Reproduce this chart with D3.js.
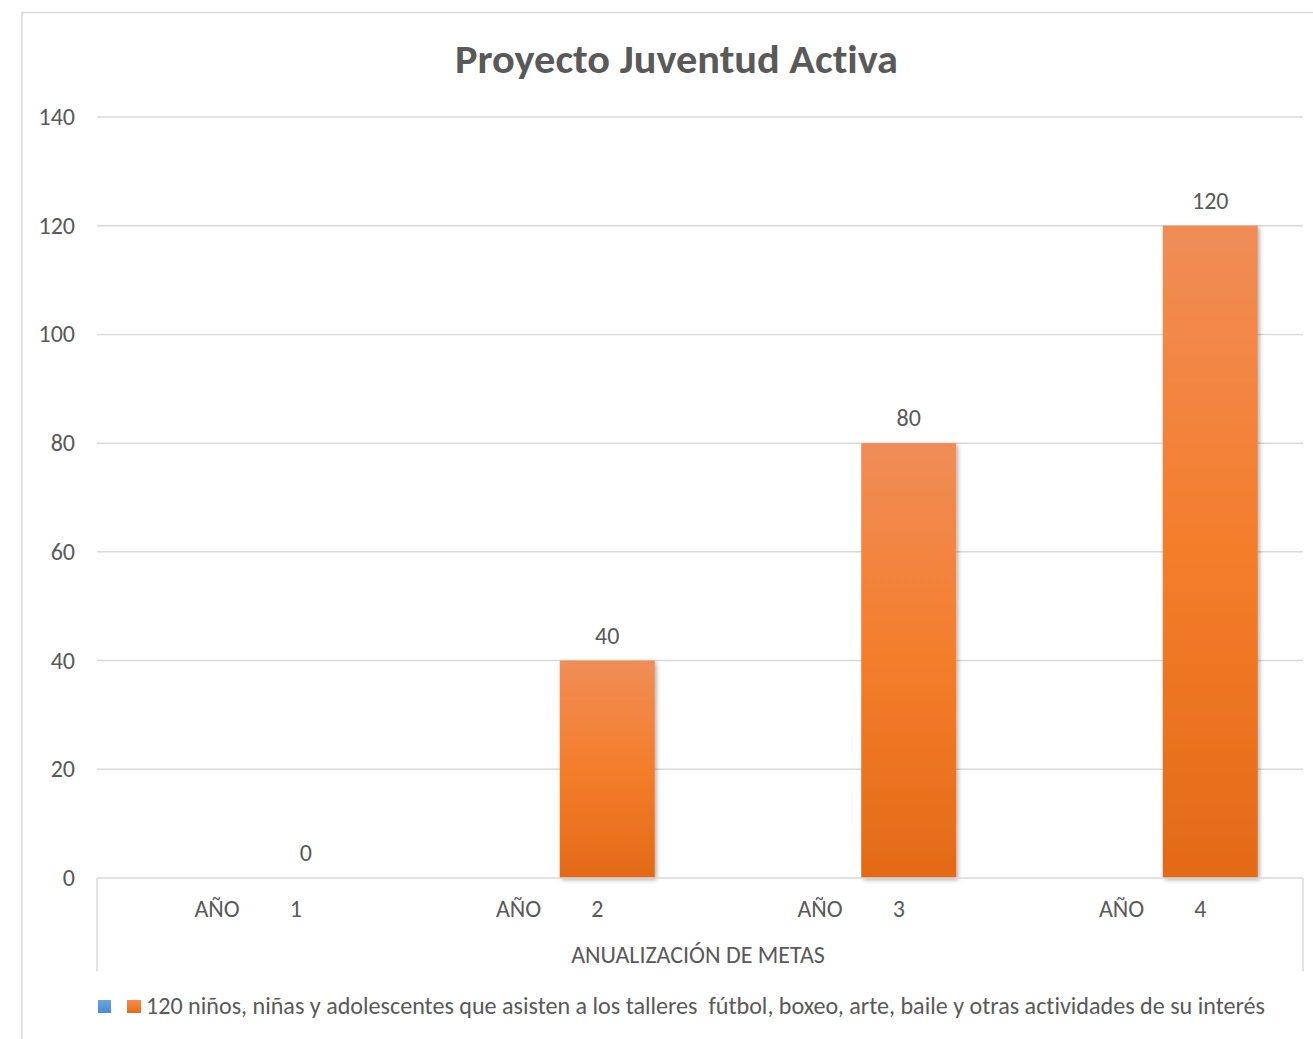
<!DOCTYPE html>
<html>
<head>
<meta charset="utf-8">
<script src="https://cdn.jsdelivr.net/npm/d3@7"></script>
<style>
  html, body { margin: 0; padding: 0; background: #fff; }
  svg text { font-family: Carlito, Calibri, Lato, "Liberation Sans", sans-serif; fill: #595959; font-variant-ligatures: none; }
</style>
</head>
<body>
<svg id="chart" width="1313" height="1039"></svg>
<script>
// ---- data ----
const title = "Proyecto Juventud Activa";
const categoryPrefix = ["AÑO", "AÑO", "AÑO", "AÑO"];
const categoryNumbers = ["1", "2", "3", "4"];
const seriesNames = ["", "120 niños, niñas y adolescentes que asisten a los talleres  fútbol, boxeo, arte, baile y otras actividades de su interés"];
const seriesBlue = [null, null, null, null];
const seriesOrange = [0, 40, 80, 120];
const yTicks = [0, 20, 40, 60, 80, 100, 120, 140];
const axisTitle = "ANUALIZACIÓN DE METAS";

// ---- layout ----
const W = 1313, H = 1039;
const plot = { left: 97, right: 1303, top: 117, bottom: 878 };
const svg = d3.select("#chart");

const defs = svg.append("defs");
const gO = defs.append("linearGradient").attr("id", "gOrange").attr("x1", 0).attr("y1", 0).attr("x2", 0).attr("y2", 1);
gO.append("stop").attr("offset", "0%").attr("stop-color", "#f08d57");
gO.append("stop").attr("offset", "50%").attr("stop-color", "#f47d2b");
gO.append("stop").attr("offset", "100%").attr("stop-color", "#e36a17");
const gB = defs.append("linearGradient").attr("id", "gBlue").attr("x1", 0).attr("y1", 0).attr("x2", 0).attr("y2", 1);
gB.append("stop").attr("offset", "0%").attr("stop-color", "#6aa5dd");
gB.append("stop").attr("offset", "100%").attr("stop-color", "#4a8bd0");
const f = defs.append("filter").attr("id", "shadow").attr("x", "-20%").attr("y", "-5%").attr("width", "140%").attr("height", "115%");
f.append("feDropShadow").attr("dx", 2).attr("dy", 2).attr("stdDeviation", 2).attr("flood-color", "#000").attr("flood-opacity", 0.3);

// outer chart border
svg.append("path")
  .attr("d", `M22,${H + 2} L22,12.5 L${W + 2},12.5`)
  .attr("fill", "none").attr("stroke", "#d9d9d9").attr("stroke-width", 1.5);

// title
svg.append("text")
  .attr("x", 676.5).attr("y", 73)
  .attr("text-anchor", "middle")
  .attr("textLength", 443).attr("lengthAdjust", "spacingAndGlyphs")
  .style("font-size", "41px").style("font-weight", "bold")
  .text(title);

// scales
const cats = categoryNumbers.map((n, i) => i);
const x0 = d3.scaleBand().domain(cats).range([plot.left, plot.right]).padding(0);
const bw = x0.bandwidth();
const x1 = d3.scaleBand().domain(["blue", "orange"])
  .range([bw / 2 - 105.5, bw / 2 + 105.5]).paddingInner(0.181).paddingOuter(0);
const y = d3.scaleLinear().domain([0, 140]).range([plot.bottom, plot.top]);

// gridlines
svg.append("g").selectAll("line").data(yTicks.filter(t => t !== 0)).join("line")
  .attr("x1", plot.left).attr("x2", plot.right)
  .attr("y1", d => y(d)).attr("y2", d => y(d))
  .attr("stroke", "#d9d9d9").attr("stroke-width", 1.5);

// y tick labels
svg.append("g").selectAll("text").data(yTicks).join("text")
  .attr("x", 75).attr("y", d => y(d) + 8)
  .attr("text-anchor", "end")
  .style("font-size", "24px")
  .text(d => d);

// bars
const barG = svg.append("g");
barG.selectAll("rect.orange").data(seriesOrange.map((v, i) => ({ v, i }))).join("rect")
  .attr("class", "orange")
  .attr("x", d => x0(d.i) + x1("orange"))
  .attr("width", x1.bandwidth())
  .attr("y", d => y(d.v))
  .attr("height", d => y(0) - y(d.v))
  .attr("fill", "url(#gOrange)")
  .attr("filter", "url(#shadow)");
barG.selectAll("rect.blue").data(seriesBlue.map((v, i) => ({ v, i })).filter(d => d.v != null)).join("rect")
  .attr("class", "blue")
  .attr("x", d => x0(d.i) + x1("blue"))
  .attr("width", x1.bandwidth())
  .attr("y", d => y(d.v))
  .attr("height", d => y(0) - y(d.v))
  .attr("fill", "url(#gBlue)");

// data labels
svg.append("g").selectAll("text").data(seriesOrange.map((v, i) => ({ v, i }))).join("text")
  .attr("x", d => x0(d.i) + x1("orange") + x1.bandwidth() / 2)
  .attr("y", d => y(d.v) - 17)
  .attr("text-anchor", "middle")
  .style("font-size", "24px")
  .text(d => d.v);

// category axis
const axisG = svg.append("g");
axisG.append("line").attr("x1", plot.left).attr("x2", plot.right).attr("y1", y(0)).attr("y2", y(0))
  .attr("stroke", "#d9d9d9").attr("stroke-width", 1.5);
axisG.append("line").attr("x1", plot.left).attr("x2", plot.left).attr("y1", y(0)).attr("y2", 971)
  .attr("stroke", "#d9d9d9").attr("stroke-width", 1.5);
axisG.append("line").attr("x1", plot.right).attr("x2", plot.right).attr("y1", y(0)).attr("y2", 971)
  .attr("stroke", "#d9d9d9").attr("stroke-width", 1.5);

axisG.selectAll("text.catp").data(cats).join("text")
  .attr("class", "catp")
  .attr("x", d => x0(d) + bw / 2 - 8)
  .attr("y", 917)
  .attr("text-anchor", "end")
  .style("font-size", "24px")
  .text(d => categoryPrefix[d]);
axisG.selectAll("text.catn").data(cats).join("text")
  .attr("class", "catn")
  .attr("x", d => x0(d) + bw / 2 + 42)
  .attr("y", 917)
  .attr("text-anchor", "start")
  .style("font-size", "24px")
  .text(d => categoryNumbers[d]);

axisG.append("text")
  .attr("x", 698).attr("y", 963)
  .attr("text-anchor", "middle")
  .style("font-size", "24px")
  .text(axisTitle);

// legend
const leg = svg.append("g");
leg.append("rect").attr("x", 98).attr("y", 1000).attr("width", 13).attr("height", 13).attr("fill", "url(#gBlue)");
leg.append("rect").attr("x", 127).attr("y", 1000).attr("width", 14).attr("height", 13).attr("fill", "url(#gOrange)");
leg.append("text").attr("x", 146).attr("y", 1014)
  .style("font-size", "24.1px")
  .style("white-space", "pre")
  .attr("xml:space", "preserve")
  .text(seriesNames[1]);
</script>
</body>
</html>
